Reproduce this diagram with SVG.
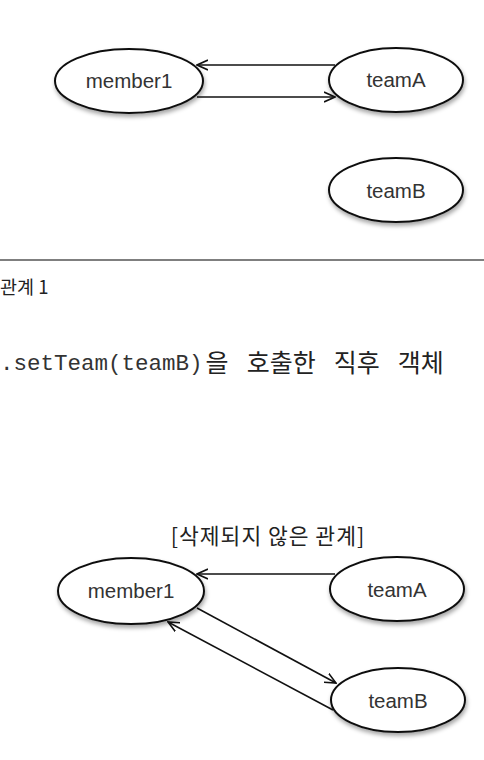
<svg xmlns="http://www.w3.org/2000/svg" width="484" height="760" viewBox="0 0 484 760">
<defs>
<marker id="arr" viewBox="0 0 12 12" refX="11" refY="6" markerWidth="12" markerHeight="12" markerUnits="userSpaceOnUse" orient="auto">
<path d="M0,1 L11,6 L0,11" fill="none" stroke="#111" stroke-width="1.6"/>
</marker>
<filter id="sh" x="-20%" y="-20%" width="140%" height="150%">
<feDropShadow dx="1" dy="3" stdDeviation="2" flood-color="#000" flood-opacity="0.35"/>
</filter>
</defs>
<style>
.node ellipse{fill:#fff;stroke:#111;stroke-width:2;filter:url(#sh)}
.node text{font-family:"Liberation Sans","Noto Sans",sans-serif;font-size:20.5px;fill:#333;text-anchor:middle}
.conn line{stroke:#111;stroke-width:1.6;marker-end:url(#arr)}
.ko{font-family:"Noto Sans CJK KR",sans-serif;fill:#222}
</style>
<rect width="484" height="760" fill="#fff"/>

<g id="top-member1" class="node"><ellipse cx="129" cy="81" rx="74" ry="32"/><text x="129" y="88">member1</text></g>
<g id="top-teamA" class="node"><ellipse cx="396" cy="80" rx="67" ry="32"/><text x="396" y="87">teamA</text></g>
<g id="top-teamB" class="node"><ellipse cx="396" cy="190" rx="67" ry="32"/><text x="396" y="198">teamB</text></g>

<g id="top-connectors" class="conn">
<line x1="335" y1="65" x2="197" y2="65"/>
<line x1="197" y1="97" x2="335" y2="97"/>
</g>

<line x1="0" y1="260" x2="484" y2="260" stroke="#555" stroke-width="1.5"/>
<text x="0" y="294" class="ko" font-size="18.5">관계 1</text>

<text x="0" y="370"><tspan font-family="Liberation Mono,monospace" font-size="22.5" fill="#333">.setTeam(teamB)</tspan><tspan class="ko" font-size="25" word-spacing="12.5" dx="3" dy="1.5">을 호출한 직후 객체</tspan></text>

<text x="268" y="544" class="ko" font-size="21.5" letter-spacing="1" text-anchor="middle" fill="#333">[삭제되지 않은 관계]</text>

<g id="bot-member1" class="node"><ellipse cx="131" cy="591" rx="73" ry="33"/><text x="131" y="598">member1</text></g>
<g id="bot-teamA" class="node"><ellipse cx="397" cy="589" rx="67" ry="32"/><text x="397" y="597">teamA</text></g>
<g id="bot-teamB" class="node"><ellipse cx="398" cy="700" rx="67" ry="32"/><text x="398" y="708">teamB</text></g>

<g id="bot-connectors" class="conn">
<line x1="335" y1="574" x2="197" y2="574"/>
<line x1="197" y1="608" x2="336" y2="683"/>
<line x1="333" y1="710" x2="168" y2="622"/>
</g>
</svg>
